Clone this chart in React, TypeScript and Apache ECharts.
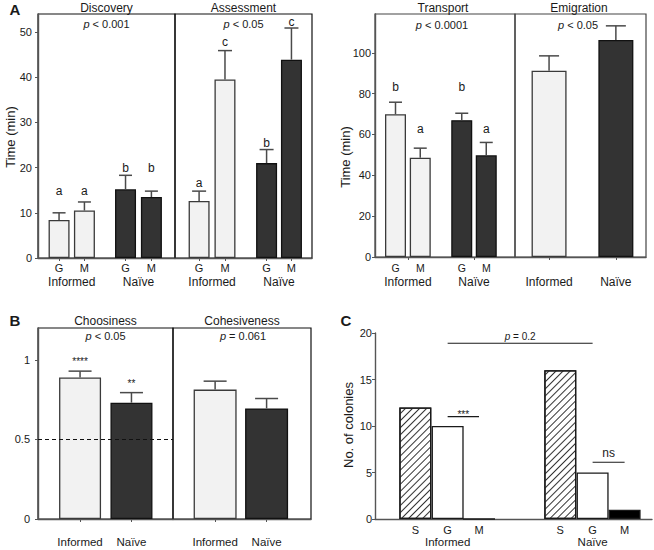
import React, { useEffect, useRef } from "react";
import * as echarts from "echarts";

const FONT = "'Liberation Sans', Arial, Helvetica, sans-serif";
const INK = "#1a1a1a";
const AXIS = "#555555";
const ERRC = "#4a4a4a";
const LIGHT = "#f2f2f2";
const DARK = "#333333";

// ---------------- data ----------------
const groups = ["Informed", "Naïve"];
const gmLabels = ["G", "M", "G", "M"];

// Panel A – Time (min)
const discoveryMean = [8.4, 10.5, 15.2, 13.5];
const discoveryErr = [10.0, 12.4, 18.3, 14.8];
const discoveryLetters = ["a", "a", "b", "b"];
const discoveryLetterAt = [14.9, 14.9, 20.0, 20.0];

const assessmentMean = [12.6, 39.5, 21.0, 43.9];
const assessmentErr = [14.8, 45.9, 24.0, 50.9];
const assessmentLetters = ["a", "c", "b", "c"];
const assessmentLetterAt = [16.6, 47.7, 25.5, 52.3];

const transportMean = [69.9, 48.6, 67.0, 49.8];
const transportErr = [75.8, 53.3, 70.4, 56.1];
const transportLetters = ["b", "a", "b", "a"];
const transportLetterAt = [83.2, 62.6, 83.2, 62.6];

const emigrationMean = [91.2, 106.3];
const emigrationErr = [98.5, 113.2];

// Panel B – proportions
const choosinessMean = [0.889, 0.731];
const choosinessErr = [0.929, 0.794];
const choosinessStars = ["****", "**"];
const choosinessStarAt = [0.99, 0.853];
const cohesivenessMean = [0.813, 0.695];
const cohesivenessErr = [0.866, 0.757];
const chanceLevel = 0.5;

// Panel C – No. of colonies
const cLabels = ["S", "G", "M", "S", "G", "M"];
const cCounts = [12, 10, 0, 16, 5, 1];
const cCompFrom = [1, 1, 4];
const cCompTo = [4, 2, 5];
const cCompAt = [18.9, 11.0, 6.1];
const cCompText = ["p = 0.2", "***", "ns"];

// Axis ticks / extents
const ticksA = [0, 10, 20, 30, 40, 50];
const ticksT = [0, 20, 40, 60, 80, 100];
const ticksB = [0, 0.5, 1];
const ticksC = [0, 5, 10, 15, 20];
const maxA = 54;
const maxT = 119;
const maxB = 1.2;
const maxC = 20;

// ---------------- layout (x positions in axis units) ----------------
const posDisc = [0.83, 1.83, 3.45, 4.47];
const posAssess = [0.95, 1.97, 3.61, 4.59];
const posTrans = [0.82, 1.81, 3.47, 4.45];
const posEmig = [0.52, 1.54];
const posB = [0.81, 1.8];
const posC = [1.26, 2.27, 3.25, 5.79, 6.8, 7.8];

const pairCenters = (p: number[]) => [(p[0] + p[1]) / 2, (p[2] + p[3]) / 2];
const tripleCenters = (p: number[]) => [p[1], p[4]];

const nearest = (vals: number[], labels: string[]) => (v: number) => {
  let bi = 0;
  vals.forEach((x, i) => {
    if (Math.abs(x - v) < Math.abs(vals[bi] - v)) bi = i;
  });
  return labels[bi];
};

const italicP = (s: string) => s.replace(/^p /, "{i|p} ");

function xMain(gridIndex: number, max: number, tickVals: number[] | null, labelVals: number[], labels: string[], fontSize: number, margin: number) {
  return {
    type: "value",
    gridIndex,
    min: 0,
    max,
    splitLine: { show: false },
    axisLine: { show: true, onZero: false, lineStyle: { color: AXIS, width: 1.4 } },
    axisTick: tickVals
      ? { show: true, customValues: tickVals, length: 3, lineStyle: { color: AXIS, width: 1 } }
      : { show: false },
    axisLabel: {
      customValues: labelVals,
      formatter: nearest(labelVals, labels),
      fontSize,
      margin,
      color: INK,
      fontFamily: FONT,
    },
  };
}

function xGroupRow(gridIndex: number, max: number, vals: number[], labels: string[], fontSize: number, offset: number) {
  return {
    type: "value",
    gridIndex,
    min: 0,
    max,
    position: "bottom",
    offset,
    splitLine: { show: false },
    axisLine: { show: false },
    axisTick: { show: false },
    axisLabel: {
      customValues: vals,
      formatter: nearest(vals, labels),
      fontSize,
      margin: 3,
      color: INK,
      fontFamily: FONT,
    },
  };
}

function yShown(gridIndex: number, max: number, ticks: number[], margin: number) {
  return {
    type: "value",
    gridIndex,
    min: 0,
    max,
    splitLine: { show: false },
    axisLine: { show: true, onZero: false, lineStyle: { color: AXIS, width: 1.4 } },
    axisTick: { show: true, customValues: ticks, length: 3, lineStyle: { color: AXIS } },
    axisLabel: { customValues: ticks, fontSize: 11, margin, color: INK, fontFamily: FONT },
  };
}

function yHidden(gridIndex: number, max: number) {
  return { type: "value", gridIndex, min: 0, max, show: false, splitLine: { show: false } };
}

function barStyle(fill: string) {
  return {
    color: fill,
    borderColor: fill === DARK ? "#111111" : "#3a3a3a",
    borderWidth: 1.3,
  };
}

function bars(xi: number, yi: number, pos: number[], vals: number[], fills: string[], width: number, extra: any = {}) {
  return {
    type: "bar",
    xAxisIndex: xi,
    yAxisIndex: yi,
    barWidth: width,
    z: 2,
    data: vals.map((v, i) => ({ value: [pos[i], v], itemStyle: barStyle(fills[i]) })),
    ...extra,
  };
}

function errors(xi: number, yi: number, pos: number[], mean: number[], err: number[], cap: number) {
  return {
    type: "custom",
    xAxisIndex: xi,
    yAxisIndex: yi,
    z: 3,
    silent: true,
    data: mean.map((m, i) => [pos[i], m, err[i]]),
    renderItem: (params: any, api: any) => {
      const x = api.value(0);
      const b = api.coord([x, api.value(1)]);
      const t = api.coord([x, api.value(2)]);
      return {
        type: "group",
        children: [
          { type: "line", shape: { x1: b[0], y1: b[1], x2: t[0], y2: t[1] }, style: { stroke: ERRC, lineWidth: 1.5 } },
          { type: "line", shape: { x1: t[0] - cap, y1: t[1], x2: t[0] + cap, y2: t[1] }, style: { stroke: ERRC, lineWidth: 1.5 } },
        ],
      };
    },
  };
}

function marks(xi: number, yi: number, pos: number[], at: number[], texts: string[], fontSize: number) {
  return {
    type: "custom",
    xAxisIndex: xi,
    yAxisIndex: yi,
    z: 4,
    silent: true,
    data: pos.map((p, i) => [p, at[i]]),
    renderItem: (params: any, api: any) => {
      const c = api.coord([api.value(0), api.value(1)]);
      return {
        type: "text",
        x: c[0],
        y: c[1],
        style: {
          text: texts[params.dataIndex],
          align: "center",
          verticalAlign: "middle",
          fontSize,
          fontFamily: FONT,
          fill: INK,
        },
      };
    },
  };
}

const txt = (x: number, y: number, text: string, size: number, extra: any = {}, rotation = 0) => ({
  type: "text",
  x,
  y,
  rotation,
  silent: true,
  style: {
    text,
    fontSize: size,
    fontFamily: FONT,
    fill: INK,
    align: "center",
    verticalAlign: "middle",
    rich: { i: { fontStyle: "italic", fontSize: size, fontFamily: FONT, fill: INK } },
    ...extra,
  },
});

function buildOption() {
  const fill4 = [LIGHT, LIGHT, DARK, DARK];
  const fill2 = [LIGHT, DARK];
  const hatch = {
    color: "#ffffff",
    borderColor: INK,
    borderWidth: 1.3,
    decal: {
      symbol: "rect",
      symbolSize: 1,
      dashArrayX: [1, 0],
      dashArrayY: [0.9, 3.6],
      rotation: -Math.PI / 4,
      color: "#333333",
    },
  };
  const cStyles = cLabels.map((l) =>
    l === "S" ? hatch : { color: l === "G" ? "#ffffff" : "#000000", borderColor: INK, borderWidth: 1.3 }
  );
  const frame = { show: true, borderColor: "#111111", borderWidth: 1.2, backgroundColor: "transparent" };

  return {
    animation: false,
    textStyle: { fontFamily: FONT },
    grid: [
      { left: 38, top: 14, width: 137, height: 244, ...frame }, // 0 Discovery
      { left: 175, top: 14, width: 137, height: 244, ...frame }, // 1 Assessment
      { left: 375, top: 14, width: 140, height: 243, ...frame, borderColor: "#444" }, // 2 Transport
      { left: 515, top: 14, width: 131, height: 243, ...frame, borderColor: "#444" }, // 3 Emigration
      { left: 38, top: 328, width: 135, height: 191, ...frame }, // 4 Choosiness
      { left: 173, top: 328, width: 138, height: 191, ...frame }, // 5 Cohesiveness
      { left: 375, top: 333, width: 277, height: 186, show: false }, // 6 C
    ],
    xAxis: [
      xMain(0, 5.4, posDisc, posDisc, gmLabels, 11, 4), // 0
      xGroupRow(0, 5.4, pairCenters(posDisc), groups, 12, 15), // 1
      xMain(1, 5.4, posAssess, posAssess, gmLabels, 11, 4), // 2
      xGroupRow(1, 5.4, pairCenters(posAssess), groups, 12, 15), // 3
      xMain(2, 5.6, pairCenters(posTrans), posTrans, gmLabels, 10.5, 5), // 4
      xGroupRow(2, 5.6, pairCenters(posTrans), groups, 12, 15.5), // 5
      xMain(3, 2, posEmig, posEmig, groups, 12, 19), // 6
      xMain(4, 2.6, posB, posB, groups, 11.5, 17), // 7
      xMain(5, 2.654, posB, posB, groups, 11.5, 17), // 8
      xMain(6, 8.656, null, posC, cLabels, 11, 5), // 9
      xGroupRow(6, 8.656, tripleCenters(posC), groups, 11.5, 14), // 10
    ],
    yAxis: [
      yShown(0, maxA, ticksA, 6),
      yHidden(1, maxA),
      yShown(2, maxT, ticksT, 4),
      yHidden(3, maxT),
      yShown(4, maxB, ticksB, 8),
      yHidden(5, maxB),
      yShown(6, maxC, ticksC, 3),
    ],
    series: [
      bars(0, 0, posDisc, discoveryMean, fill4, 21),
      errors(0, 0, posDisc, discoveryMean, discoveryErr, 6.5),
      marks(0, 0, posDisc, discoveryLetterAt, discoveryLetters, 12),

      bars(2, 1, posAssess, assessmentMean, fill4, 21),
      errors(2, 1, posAssess, assessmentMean, assessmentErr, 7),
      marks(2, 1, posAssess, assessmentLetterAt, assessmentLetters, 12),

      bars(4, 2, posTrans, transportMean, fill4, 21),
      errors(4, 2, posTrans, transportMean, transportErr, 6.5),
      marks(4, 2, posTrans, transportLetterAt, transportLetters, 12),

      bars(6, 3, posEmig, emigrationMean, fill2, 35),
      errors(6, 3, posEmig, emigrationMean, emigrationErr, 10),

      bars(7, 4, posB, choosinessMean, fill2, 42, {
        markLine: {
          silent: true,
          symbol: ["none", "none"],
          label: { show: false },
          lineStyle: { type: [4, 3], color: "#111111", width: 1.2 },
          data: [{ yAxis: chanceLevel }],
        },
      }),
      errors(7, 4, posB, choosinessMean, choosinessErr, 11.5),
      marks(7, 4, posB, choosinessStarAt, choosinessStars, 10),

      bars(8, 5, posB, cohesivenessMean, fill2, 43),
      errors(8, 5, posB, cohesivenessMean, cohesivenessErr, 11.5),

      {
        type: "bar",
        xAxisIndex: 9,
        yAxisIndex: 6,
        barWidth: 32,
        z: 2,
        data: cCounts.map((v, i) => ({ value: [posC[i], v], itemStyle: cStyles[i] })),
      },
      {
        type: "custom",
        xAxisIndex: 9,
        yAxisIndex: 6,
        z: 4,
        silent: true,
        data: cCompFrom.map((f, i) => [posC[f], posC[cCompTo[i]], cCompAt[i]]),
        renderItem: (params: any, api: any) => {
          const a = api.coord([api.value(0), api.value(2)]);
          const b = api.coord([api.value(1), api.value(2)]);
          const label = cCompText[params.dataIndex];
          const size = label === "ns" ? 12 : 10;
          const dy = label === "ns" ? 9.5 : label === "***" ? 2 : 7;
          return {
            type: "group",
            children: [
              { type: "line", shape: { x1: a[0], y1: a[1], x2: b[0], y2: b[1] }, style: { stroke: INK, lineWidth: 1.2 } },
              {
                type: "text",
                x: (a[0] + b[0]) / 2,
                y: a[1] - dy,
                style: {
                  text: italicP(label),
                  align: "center",
                  verticalAlign: "middle",
                  fontSize: size,
                  fontFamily: FONT,
                  fill: INK,
                  rich: { i: { fontStyle: "italic", fontSize: size, fontFamily: FONT, fill: INK } },
                },
              },
            ],
          };
        },
      },
    ],
    graphic: [
      txt(15, 9, "A", 15, { fontWeight: "bold" }),
      txt(15, 320, "B", 15, { fontWeight: "bold" }),
      txt(346, 320, "C", 15, { fontWeight: "bold" }),

      txt(106.5, 8, "Discovery", 12),
      txt(243.5, 8, "Assessment", 12),
      txt(443, 8, "Transport", 12),
      txt(579, 8, "Emigration", 12),
      txt(105.5, 320.5, "Choosiness", 12),
      txt(242, 320.5, "Cohesiveness", 12),

      txt(106.5, 24, italicP("p < 0.001"), 11),
      txt(243.5, 24, italicP("p < 0.05"), 11),
      txt(442, 24.5, italicP("p < 0.0001"), 11),
      txt(578, 25, italicP("p < 0.05"), 11),
      txt(105.5, 336, italicP("p < 0.05"), 11),
      txt(243, 336, italicP("p = 0.061"), 11),

      txt(10, 137, "Time (min)", 13, {}, Math.PI / 2),
      txt(345, 157, "Time (min)", 13, {}, Math.PI / 2),
      txt(348, 425, "No. of colonies", 13, {}, Math.PI / 2),
    ],
  };
}

export default function App() {
  const ref = useRef<HTMLDivElement>(null);
  useEffect(() => {
    document.body.style.margin = "0";
    const chart = echarts.init(ref.current as HTMLDivElement, null, { renderer: "svg" });
    chart.setOption(buildOption() as any);
    return () => chart.dispose();
  }, []);
  return <div ref={ref} style={{ width: 654, height: 550 }} />;
}
